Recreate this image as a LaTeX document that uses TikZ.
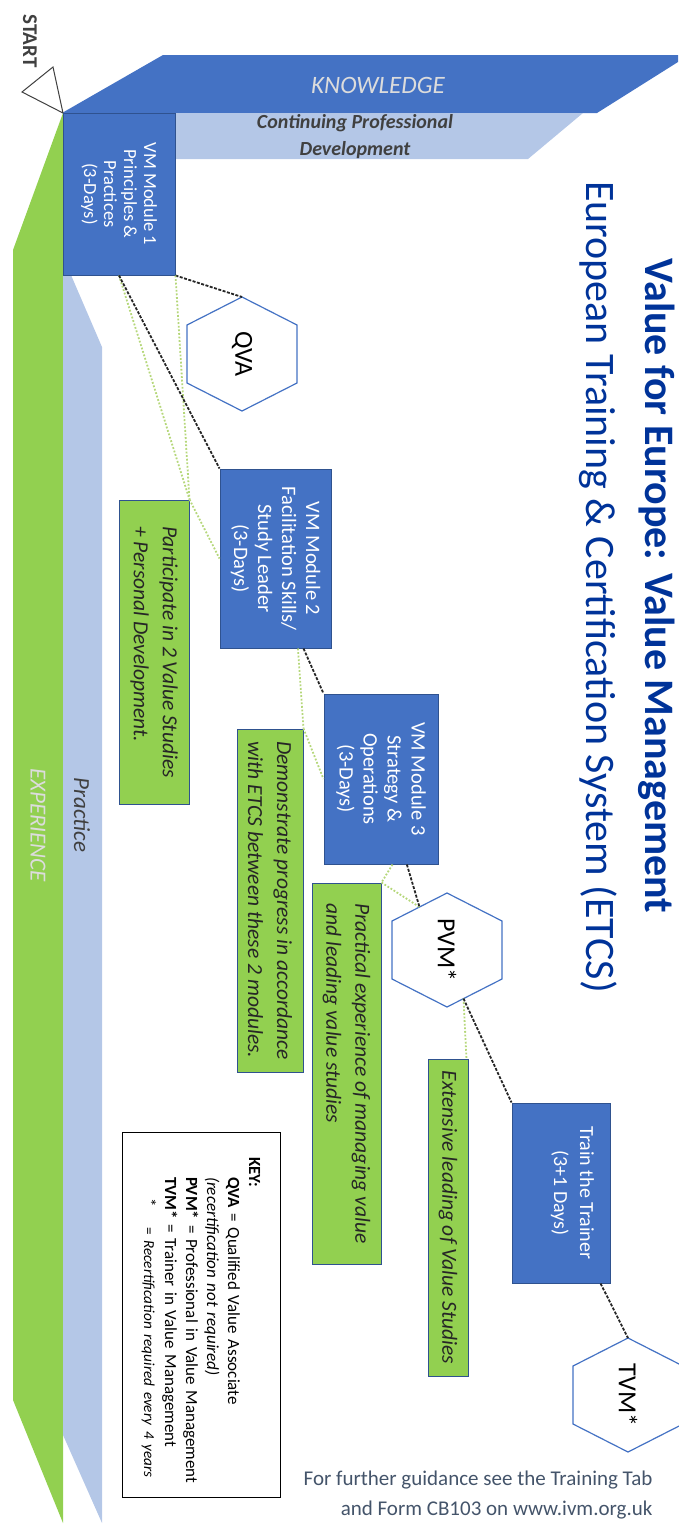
\documentclass[tikz,border=0pt]{standalone}
\usepackage{fontspec}
\setmainfont{Carlito}
\usetikzlibrary{calc}
\definecolor{vmblue}{HTML}{4472C4}
\definecolor{vmedge}{HTML}{2F528F}
\definecolor{vmlight}{HTML}{B4C7E7}
\definecolor{vmgreen}{HTML}{92D050}
\definecolor{dotgreen}{HTML}{B5D77A}
\definecolor{titleblue}{HTML}{003399}
\definecolor{footgray}{HTML}{44546A}
\definecolor{darktext}{HTML}{404040}
\definecolor{palegray}{HTML}{DCDCDC}
\tikzset{
  module/.style={draw=vmedge, fill=vmblue, text=white, line width=1pt,
                 rotate=-90, align=center, inner sep=0pt},
  task/.style={draw=vmedge, fill=vmgreen, text=black!85, line width=1pt,
               rotate=-90, align=left, inner sep=0pt,
               font=\itshape\fontsize{21.5}{29}\selectfont},
  award/.style={rotate=-90, font=\fontsize{26}{30}\selectfont},
  hexline/.style={draw=vmblue, fill=white, line width=1.2pt},
  blackdash/.style={draw=black!85, line width=1.8pt, dash pattern=on 3pt off 1.5pt},
  greendot/.style={draw=dotgreen, line width=1.8pt, dash pattern=on 1.8pt off 1.8pt},
}

\begin{document}
\begin{tikzpicture}[x=1pt,y=-1pt]
  \useasboundingbox (0,0) rectangle (678,1526);
  \def\hexa#1#2#3#4{%
    \draw[hexline] (#2,#3-57) coordinate (#1-t) -- (#2+55,#3-29) coordinate (#1-tr)
      -- (#2+55,#3+29) coordinate (#1-br) -- (#2,#3+57) coordinate (#1-b)
      -- (#2-55,#3+29) coordinate (#1-bl) -- (#2-55,#3-29) coordinate (#1-tl) -- cycle;
    \node[award] (#1) at (#2,#3) {#4};
  }

  % bands
  \fill[vmblue] (62,113) -- (163,55) -- (678,55) -- (678,62) -- (597,113) -- cycle;
  \fill[vmlight] (175,113) -- (583,113) -- (528,159) -- (175,159) -- cycle;
  \fill[vmgreen] (63,113) -- (13,250) -- (13,1400) -- (63,1523) -- cycle;
  \fill[vmlight] (63,275) -- (71,275) -- (102,347) -- (102,1523) -- (63,1435) -- cycle;
  \draw[darktext, line width=1pt, fill=white] (53,67) -- (22,92) -- (63,113) -- cycle;

  \node[rotate=-90, text=darktext, font=\bfseries\fontsize{21}{24}\selectfont] (start) at (30,41) {START};
  \node[text=palegray, font=\itshape\fontsize{25}{28}\selectfont] (know) at (378,85) {KNOWLEDGE};
  \node[text=darktext, align=center, font=\bfseries\itshape\fontsize{20}{27}\selectfont] (cpd) at (355,137) {Continuing Professional\\Development};
  \node[rotate=-90, text=darktext, font=\itshape\fontsize{23}{26}\selectfont] (practice) at (82,815) {Practice};
  \node[rotate=-90, text=palegray, font=\itshape\fontsize{23}{26}\selectfont] (exp) at (38,825) {EXPERIENCE};

  % title
  \node[rotate=-90, text=titleblue, font=\bfseries\fontsize{42}{48}\selectfont] (title) at (657,586) {Value for Europe: Value Management};
  \node[rotate=-90, text=titleblue, font=\fontsize{42}{48}\selectfont] (subtitle) at (598,587) {European Training \& Certification System (ETCS)};

  % modules
  \node[module, minimum width=162pt, minimum height=112pt, font=\fontsize{18.5}{20}\selectfont] (m1) at (119,194) {VM Module 1\\Principles \&\\Practices\\(3-Days)};
  \node[module, minimum width=179pt, minimum height=111pt, font=\fontsize{20.5}{24}\selectfont] (m2) at (275.5,558.5) {VM Module 2\\Facilitation Skills/\\Study Leader\\(3-Days)};
  \node[module, minimum width=170pt, minimum height=114pt, font=\fontsize{20.5}{24}\selectfont] (m3) at (381,779) {VM Module 3\\Strategy \&\\Operations\\(3-Days)};
  \node[module, minimum width=180pt, minimum height=98pt, font=\fontsize{20}{26}\selectfont] (tt) at (561,1193) {Train the Trainer\\(3+1 Days)\\ \mbox{}};

  % experience boxes
  \node[task, minimum width=304pt, minimum height=70pt] (p1) at (154,652) {Participate in 2 Value Studies\\+ Personal Development.};
  \node[task, minimum width=343pt, minimum height=66pt] (d1) at (270,900.5) {Demonstrate progress in accordance\\with ETCS between these 2 modules.};
  \node[task, minimum width=381pt, minimum height=69pt] (p3) at (346.5,1073.5) {Practical experience of managing value\\and leading value studies};
  \node[task, minimum width=317pt, minimum height=40pt] (e1) at (448,1217.5) {Extensive leading of Value Studies};

  \foreach \n/\x/\y/\t in {qva/242/354/QVA, pvm/447/950/PVM*, tvm/628/1395/TVM*} {
    \hexa{\n}{\x}{\y}{\t}
  }

  % links
  \draw[blackdash] (m1.north east) -- (qva-t);
  \draw[greendot] (m1.east) -- (p1.north west);
  \draw[greendot] (m1.north east) -- (p1.north west);
  \draw[blackdash] (m1.east) -- (m2.south west);
  \draw[greendot] (p1.north west) -- (m2.south);
  \draw[greendot] ($(m2.east)!0.4!(m2.north east)$) -- (d1.north west);
  \draw[blackdash] ($(m2.east)!0.5!(m2.north east)$) -- (m3.south west);
  \draw[greendot] (d1.north west) -- (m3.south);
  \draw[greendot] ($(m3.east)!0.2!(m3.north east)$) -- (p3.north west);
  \draw[greendot] (p3.north west) -- ($(pvm-tl)!0.5!(pvm-t)$);
  \draw[blackdash] ($(m3.east)!0.45!(m3.north east)$) -- ($(pvm-tl)!0.5!(pvm-t)$);
  \draw[greendot] ($(pvm-b)!0.3!(pvm-br)$) -- ($(e1.north west)!0.1!(e1.west)$);
  \draw[blackdash] ($(pvm-b)!0.3!(pvm-br)$) -- (tt.south west);
  \draw[blackdash] ($(tt.east)!0.8!(tt.north east)$) -- (tvm-t);

  % key
  \node[draw=black, fill=white, line width=1pt, rotate=-90, align=left,
        text width=345pt, inner xsep=10pt, inner ysep=0pt,
        minimum width=365pt, minimum height=158pt,
        font=\fontsize{17}{21}\selectfont] (key) at (201,1314.5)
    {\mbox{\hspace*{15pt}\textbf{KEY:}}\\
     \mbox{\hspace*{35pt}\textbf{QVA} = Qualified Value Associate}\\
     \mbox{\hspace*{35pt}\textit{(recertification not required)}}\\
     \mbox{\hspace*{35pt}\textbf{PVM*} = Professional in Value Management}\\
     \mbox{\hspace*{35pt}\textbf{TVM*} = Trainer in Value Management}\\
     \mbox{\hspace*{35pt}\makebox[50pt][l]{\hspace*{21pt}*}{\fontsize{15.2}{21}\selectfont= \textit{Recertification required every 4 years}}}};

  \node[anchor=east, align=right, text=footgray, font=\fontsize{21}{30}\selectfont] (guide) at (656,1495)
    {For further guidance see the Training Tab\\and Form CB103 on www.ivm.org.uk};
\end{tikzpicture}
\end{document}
